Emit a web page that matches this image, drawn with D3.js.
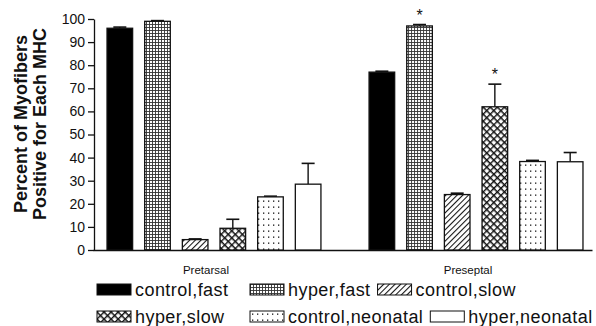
<!DOCTYPE html>
<html>
<head>
<meta charset="utf-8">
<script src="https://cdn.jsdelivr.net/npm/d3@7"></script>
<style>
  html, body { margin: 0; padding: 0; background: #fff; }
  svg { display: block; font-family: "Liberation Sans", Arial, Helvetica, sans-serif; }
</style>
</head>
<body>
<div id="chart"></div>
<script>
// data
const groups = ['Pretarsal', 'Preseptal'];
const seriesNames = ['control,fast', 'hyper,fast', 'control,slow', 'hyper,slow', 'control,neonatal', 'hyper,neonatal'];
const pretarsalValues = [96, 99, 4.5, 9.4, 23, 28.5];
const pretarsalErrors = [0.5, 0.3, 0.3, 3.9, 0.3, 9];
const preseptalValues = [77, 97, 24, 62, 38.3, 38.2];
const preseptalErrors = [0.4, 0.6, 0.6, 9.8, 0.5, 4];
const pretarsalStars = [false, false, false, false, false, false];
const preseptalStars = [false, true, false, true, false, false];
const yTicks = [0, 10, 20, 30, 40, 50, 60, 70, 80, 90, 100];
const yTitleLines = ['Percent of Myofibers', 'Positive for Each MHC'];

const width = 596, height = 326;

const rows = [
  { group: groups[0], values: pretarsalValues, errors: pretarsalErrors, stars: pretarsalStars },
  { group: groups[1], values: preseptalValues, errors: preseptalErrors, stars: preseptalStars }
];

const svg = d3.select('#chart').append('svg')
  .attr('width', width)
  .attr('height', height);

// fill patterns, one per series
const defs = svg.append('defs');

const pGrid = defs.append('pattern').attr('id', 'p1')
  .attr('patternUnits', 'userSpaceOnUse').attr('width', 3).attr('height', 3);
pGrid.append('rect').attr('width', 3).attr('height', 3).attr('fill', '#fff');
pGrid.append('path').attr('d', 'M0 0.5H3M0.5 0V3').attr('stroke', '#333').attr('stroke-width', 0.9);

const pHatch = defs.append('pattern').attr('id', 'p2')
  .attr('patternUnits', 'userSpaceOnUse').attr('width', 4).attr('height', 4)
  .attr('patternTransform', 'rotate(45)');
pHatch.append('rect').attr('width', 4).attr('height', 4).attr('fill', '#fff');
pHatch.append('line').attr('x1', 0.5).attr('x2', 0.5).attr('y1', 0).attr('y2', 4)
  .attr('stroke', '#111').attr('stroke-width', 1.1);

const pCross = defs.append('pattern').attr('id', 'p3')
  .attr('patternUnits', 'userSpaceOnUse').attr('width', 5).attr('height', 5)
  .attr('patternTransform', 'rotate(45)');
pCross.append('rect').attr('width', 5).attr('height', 5).attr('fill', '#fff');
pCross.append('path').attr('d', 'M0.7 0V5M0 0.7H5').attr('stroke', '#111').attr('stroke-width', 1.4);

const pDots = defs.append('pattern').attr('id', 'p4')
  .attr('patternUnits', 'userSpaceOnUse').attr('width', 5).attr('height', 6);
pDots.append('rect').attr('width', 5).attr('height', 6).attr('fill', '#fff');
pDots.append('rect').attr('x', 2).attr('y', 2.5).attr('width', 1.3).attr('height', 1.3).attr('fill', '#111');

const fills = ['#000', 'url(#p1)', 'url(#p2)', 'url(#p3)', 'url(#p4)', '#fff'];

// scales
const y = d3.scaleLinear().domain([0, 100]).range([250, 19]);

const x0 = d3.scaleBand().domain(groups)
  .range([101, 589])
  .paddingInner(0.1377)
  .paddingOuter(0);

const x1 = d3.scaleBand().domain(seriesNames)
  .range([0, x0.bandwidth()])
  .paddingInner(0.32)
  .paddingOuter(0.16);

// y axis
const yAxis = svg.append('g')
  .attr('transform', 'translate(94,0)')
  .call(d3.axisLeft(y).tickValues(yTicks).tickSize(6).tickSizeOuter(0).tickPadding(3));
yAxis.select('.domain').attr('stroke', '#111').attr('stroke-width', 1.3);
yAxis.selectAll('.tick line').attr('stroke', '#111').attr('stroke-width', 1.3);
yAxis.selectAll('.tick text')
  .style('font-family', '"Liberation Sans", Arial, sans-serif')
  .style('font-size', '14px')
  .attr('fill', '#111');

// x axis (baseline only)
const xAxis = svg.append('g')
  .attr('transform', `translate(0,${y(0)})`)
  .call(d3.axisBottom(d3.scaleLinear().domain([0, 1]).range([93, 592])).tickValues([]).tickSizeOuter(0));
xAxis.select('.domain').attr('stroke', '#111').attr('stroke-width', 1.3);

// y title
const yTitle = svg.append('text')
  .attr('transform', 'translate(27,124) rotate(-90)')
  .attr('text-anchor', 'middle')
  .style('font-size', '18px')
  .style('font-weight', 'bold')
  .attr('fill', '#111');
yTitle.selectAll('tspan')
  .data(yTitleLines)
  .enter().append('tspan')
  .attr('x', 0)
  .attr('dy', (d, i) => i === 0 ? 0 : 19)
  .text(d => d);

// bars
const groupG = svg.selectAll('.group')
  .data(rows)
  .enter().append('g')
  .attr('class', 'group')
  .attr('transform', d => `translate(${x0(d.group)},0)`);

const barData = r => seriesNames.map((name, i) => ({
  name, i, value: r.values[i], err: r.errors[i], star: r.stars[i]
}));

const cells = groupG.selectAll('.cell')
  .data(barData)
  .enter().append('g')
  .attr('class', 'cell');

// error bars behind bars
cells.append('line')
  .attr('x1', d => x1(d.name) + x1.bandwidth() / 2)
  .attr('x2', d => x1(d.name) + x1.bandwidth() / 2)
  .attr('y1', d => y(d.value))
  .attr('y2', d => y(d.value + d.err))
  .attr('stroke', '#111')
  .attr('stroke-width', 1.4);

cells.append('line')
  .attr('x1', d => x1(d.name) + x1.bandwidth() / 2 - 6.5)
  .attr('x2', d => x1(d.name) + x1.bandwidth() / 2 + 6.5)
  .attr('y1', d => y(d.value + d.err))
  .attr('y2', d => y(d.value + d.err))
  .attr('stroke', '#111')
  .attr('stroke-width', 1.6);

cells.append('rect')
  .attr('x', d => x1(d.name))
  .attr('y', d => y(d.value))
  .attr('width', x1.bandwidth())
  .attr('height', d => y(0) - y(d.value))
  .attr('fill', d => fills[d.i])
  .attr('stroke', '#111')
  .attr('stroke-width', 1.3);

cells.filter(d => d.star).append('text')
  .attr('x', d => x1(d.name) + x1.bandwidth() / 2)
  .attr('y', d => y(d.value + d.err) - 4)
  .attr('text-anchor', 'middle')
  .style('font-size', '16px')
  .attr('fill', '#111')
  .text('*');

// group labels
svg.selectAll('.glabel')
  .data(groups)
  .enter().append('text')
  .attr('class', 'glabel')
  .attr('x', d => x0(d) + x0.bandwidth() / 2 - 8)
  .attr('y', 274)
  .attr('text-anchor', 'middle')
  .style('font-size', '11.5px')
  .attr('fill', '#111')
  .text(d => d);

// legend, two rows; first two columns fixed, third follows the text
const legendRows = [[0, 1, 2], [3, 4, 5]];
const colX = [97, 250];
const rowY = [284, 311];
const legend = svg.append('g').attr('class', 'legend');

legendRows.forEach((items, r) => {
  let nextX = null;
  items.forEach((si, c) => {
    const lx = c < 2 ? colX[c] : nextX;
    const item = legend.append('g').attr('transform', `translate(${lx},${rowY[r]})`);
    item.append('rect')
      .attr('width', 34)
      .attr('height', 11)
      .attr('fill', fills[si])
      .attr('stroke', '#111')
      .attr('stroke-width', 1);
    const t = item.append('text')
      .attr('x', 38)
      .attr('y', 12)
      .style('font-size', '18px')
      .style('letter-spacing', '0.45px')
      .attr('fill', '#111')
      .text(seriesNames[si]);
    nextX = lx + 38 + t.node().getComputedTextLength() + 7;
  });
});
</script>
</body>
</html>
